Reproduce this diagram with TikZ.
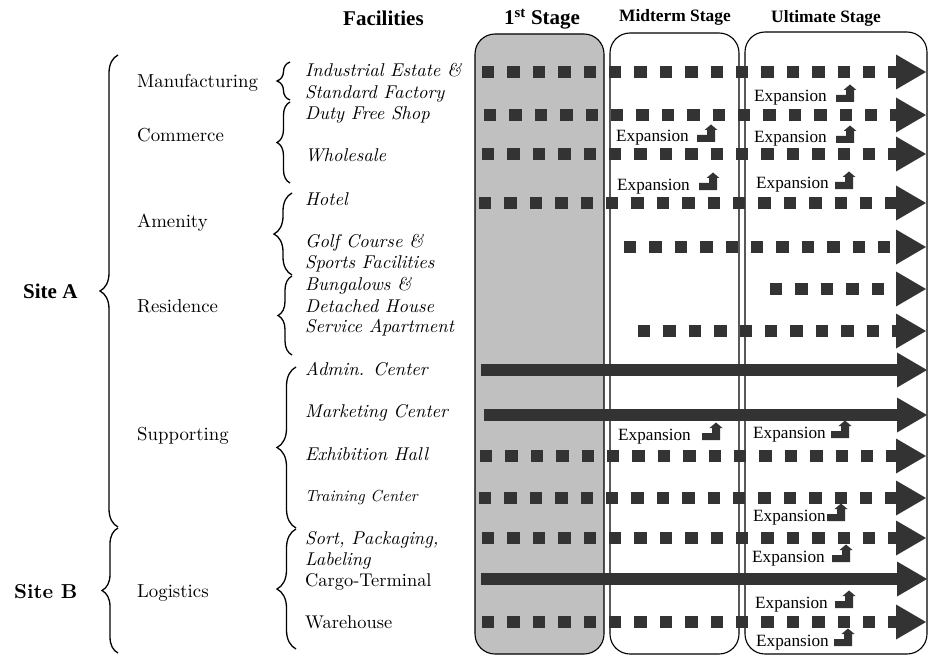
\documentclass[tikz,border=0pt]{standalone}
\usepackage{fontspec}
\setmainfont{lmroman10-regular.otf}[ItalicFont=lmroman10-italic.otf, BoldFont=lmroman10-bold.otf, BoldItalicFont=lmroman10-bolditalic.otf]
\newfontfamily\tms{Liberation Serif}
\usetikzlibrary{decorations.pathreplacing}
\definecolor{dk}{HTML}{333333}
\definecolor{boxgray}{HTML}{C0C0C0}
\tikzset{
  stagebox/.style={draw=black, line width=1.1pt, rounded corners=20pt},
  dotrow/.style={draw=dk, line width=12.4pt, dash pattern=on 12.4pt off 13pt},
  solidrow/.style={draw=dk, line width=12.8pt},
  lbl/.style={inner sep=0pt, anchor=base west},
  hdr/.style={lbl, font=\tms\bfseries\fontsize{21}{25}\selectfont},
  hdrs/.style={lbl, font=\tms\bfseries\fontsize{17.4}{21}\selectfont},
  cat/.style={lbl, font=\fontsize{18.8}{22}\selectfont},
  fac/.style={lbl, font=\itshape\fontsize{18.5}{22}\selectfont},
  facsm/.style={lbl, font=\itshape\fontsize{16}{19}\selectfont},
  facup/.style={lbl, font=\fontsize{18.4}{22}\selectfont},
  explbl/.style={lbl, font=\tms\fontsize{17.2}{20}\selectfont},
  bracel/.style={decorate, decoration={brace, amplitude=#1}, line width=1.3pt},
  rowtip/.pic={\fill[dk] (0,-17.5) -- (30,0) -- (0,17.5) -- cycle;},
  expicon/.pic={\fill[dk] (0,0) -- (18,0) -- (18,-12) -- (20.5,-12) -- (14,-17.5) -- (7.5,-12) -- (10,-12) -- (10,-7) -- (0,-7) -- cycle;}
}
\begin{document}
\begin{tikzpicture}[x=1pt,y=-1pt]
\useasboundingbox (0,0) rectangle (928,655);
% stage boxes
\draw[stagebox, fill=boxgray] (475,34) rectangle (604,654);
\draw[stagebox] (610,33) rectangle (739,654);
\draw[stagebox] (745,32) rectangle (927,654);
% headers
\node[hdr] (hfac) at (343,26) {Facilities};
\node[hdr] (h1st) at (504,25) {1\textsuperscript{st} Stage};
\node[hdrs] (hmid) at (619,22) {Midterm Stage};
\node[hdrs] (hult) at (771,23) {Ultimate Stage};
% site labels and braces
\node[lbl, font=\tms\bfseries\fontsize{21}{25}\selectfont] (siteA) at (23,298) {Site A};
\node[lbl, font=\bfseries\fontsize{20.2}{24}\selectfont] (siteB) at (14,598) {Site B};
\coordinate (bA1) at (118,527); \coordinate (bA2) at (118,55);
\draw[bracel=18pt] (bA1) -- (bA2);
\coordinate (bB1) at (118,653); \coordinate (bB2) at (118,528);
\draw[bracel=16pt] (bB1) -- (bB2);
% categories
\node[cat] (cMan) at (137,88) {Manufacturing};
\node[cat] (cCom) at (137,142) {Commerce};
\node[cat] (cAme) at (137,227) {Amenity};
\node[cat] (cRes) at (137,312) {Residence};
\node[cat] (cSup) at (137,440) {Supporting};
\node[cat] (cLog) at (137,597) {Logistics};
% small braces
\coordinate (m1) at (290,100); \coordinate (m2) at (290,62);
\draw[bracel=13pt] (m1) -- (m2);
\coordinate (co1) at (290,183); \coordinate (co2) at (290,102);
\draw[bracel=13pt] (co1) -- (co2);
\coordinate (am1) at (292,275); \coordinate (am2) at (292,193);
\draw[bracel=18pt] (am1) -- (am2);
\coordinate (re1) at (292,355); \coordinate (re2) at (292,276);
\draw[bracel=14pt] (re1) -- (re2);
\coordinate (su1) at (296,528); \coordinate (su2) at (296,367);
\draw[bracel=19pt] (su1) -- (su2);
\coordinate (lo1) at (296,649); \coordinate (lo2) at (296,529);
\draw[bracel=19pt] (lo1) -- (lo2);
% facilities
\node[fac] (f1a) at (305,77) {Industrial Estate \&};
\node[fac] (f1b) at (305,99) {Standard Factory};
\node[fac] (f2) at (305,120) {Duty Free Shop};
\node[fac] (f3) at (305,162) {Wholesale};
\node[fac] (f4) at (305,205) {Hotel};
\node[fac] (f5a) at (305,247) {Golf Course \&};
\node[fac] (f5b) at (305,268) {Sports Facilities};
\node[fac] (f6a) at (305,290) {Bungalows \&};
\node[fac] (f6b) at (305,312) {Detached House};
\node[fac] (f7) at (305,332) {Service Apartment};
\node[fac] (f8) at (305,375) {Admin. Center};
\node[fac] (f9) at (305,417) {Marketing Center};
\node[fac] (f10) at (305,460) {Exhibition Hall};
\node[facsm] (f11) at (305,501) {Training Center};
\node[fac] (f12a) at (305,544) {Sort, Packaging,};
\node[fac] (f12b) at (305,565) {Labeling};
\node[facup] (f13) at (305,586) {Cargo-Terminal};
\node[facup] (f14) at (305,628) {Warehouse};
% rows
\coordinate (s1) at (482,72);  \coordinate (e1) at (896,72);
\coordinate (s2) at (484,115); \coordinate (e2) at (896,115);
\coordinate (s3) at (482,154); \coordinate (e3) at (896,154);
\coordinate (s4) at (479,203); \coordinate (e4) at (896,203);
\coordinate (s5) at (624,247); \coordinate (e5) at (896,247);
\coordinate (s6) at (770,289); \coordinate (e6) at (896,289);
\coordinate (s7) at (638,331); \coordinate (e7) at (896,331);
\coordinate (s8) at (481,370); \coordinate (e8) at (897,370);
\coordinate (s9) at (484,415); \coordinate (e9) at (897,415);
\coordinate (s10) at (480,456); \coordinate (e10) at (896,456);
\coordinate (s11) at (479,498); \coordinate (e11) at (896,498);
\coordinate (s12) at (482,538); \coordinate (e12) at (896,538);
\coordinate (s13) at (481,579); \coordinate (e13) at (897,579);
\coordinate (s14) at (482,622); \coordinate (e14) at (896,622);
\foreach \i in {1,2,3,4,5,6,7,10,11,12,14} {
  \draw[dotrow] (s\i) -- (e\i);
  \pic at (e\i) {rowtip};
}
\foreach \i in {8,9,13} {
  \draw[solidrow] (s\i) -- (e\i);
  \pic at (e\i) {rowtip};
}
% expansion labels
\node[explbl] (x1) at (754,102) {Expansion};  \pic at (836,102) {expicon};
\node[explbl] (x2) at (616,142) {Expansion};  \pic at (697,142) {expicon};
\node[explbl] (x3) at (754,143) {Expansion};  \pic at (836,143) {expicon};
\node[explbl] (x4) at (617,190) {Expansion};  \pic at (699,190) {expicon};
\node[explbl] (x5) at (756,189) {Expansion};  \pic at (835,189) {expicon};
\node[explbl] (x6) at (618,440) {Expansion};  \pic at (702,440) {expicon};
\node[explbl] (x7) at (753,438) {Expansion};  \pic at (831,438) {expicon};
\node[explbl] (x8) at (753,521) {Expansion};  \pic at (827,521) {expicon};
\node[explbl] (x9) at (752,562) {Expansion};  \pic at (832,562) {expicon};
\node[explbl] (x10) at (755,608) {Expansion}; \pic at (835,608) {expicon};
\node[explbl] (x11) at (756,646) {Expansion}; \pic at (834,646) {expicon};
\end{tikzpicture}
\end{document}
